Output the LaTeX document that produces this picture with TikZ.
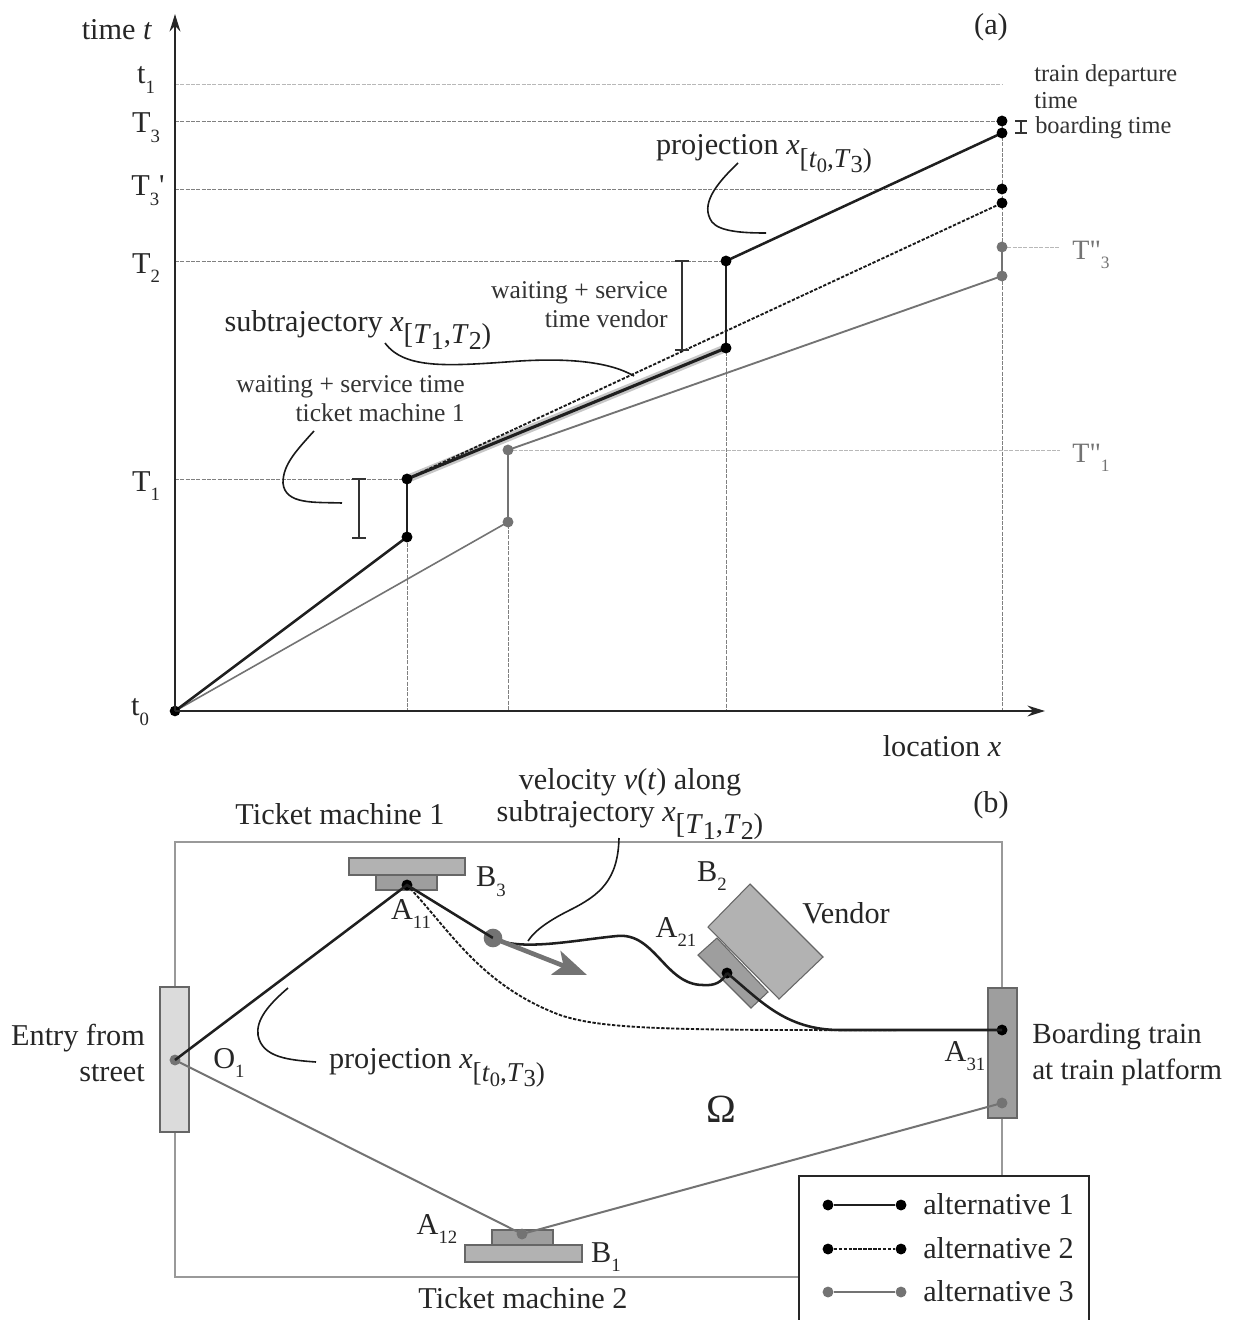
\documentclass[tikz,border=0pt]{standalone}
\usepackage{fontspec}
\setmainfont{Liberation Serif}
\newfontfamily\plainf{Liberation Serif}
\usetikzlibrary{arrows.meta}
\pgfdeclarelayer{under}
\pgfsetlayers{under,main}
\newcommand{\fbig}{\fontsize{22.7}{26}\selectfont}
\newcommand{\fmid}{\fontsize{19.2}{21}\selectfont}
\newcommand{\fsm}{\fontsize{18.3}{20.5}\selectfont}
\newcommand{\lowsub}[1]{\raisebox{-0.32em}{\fontsize{0.62em}{0.7em}\selectfont #1}}
\newcommand{\midx}[2]{\textit{x}\raisebox{-0.42em}{\fontsize{0.95em}{1em}\selectfont [\textit{#1}\raisebox{-0.2em}{\fontsize{0.9em}{1em}\selectfont 1},\textit{#1}\raisebox{-0.2em}{\fontsize{0.9em}{1em}\selectfont 2})}}
\newcommand{\prox}{\textit{x}\raisebox{-0.42em}{\fontsize{0.9em}{1em}\selectfont [\textit{t}\raisebox{-0.2em}{\fontsize{0.75em}{1em}\selectfont 0},\textit{T}\raisebox{-0.2em}{\fontsize{0.9em}{1em}\selectfont 3})}}
\definecolor{altgray}{gray}{0.45}
\definecolor{guide}{gray}{0.5}
\definecolor{lightguide}{gray}{0.72}
\tikzset{
  lbl/.style={inner sep=0pt,font=\fbig,text=black!85},
  lblm/.style={inner sep=0pt,font=\fmid,align=right,text=black!80},
  lbls/.style={inner sep=0pt,font=\fsm,align=left,text=black!80},
  lblg/.style={inner sep=0pt,font=\fontsize{21}{24}\selectfont,text=altgray},
  dotb/.style={circle,fill=black,draw=none,inner sep=0pt,minimum size=8.2pt},
  dotg/.style={circle,fill=altgray,draw=none,inner sep=0pt,minimum size=8.2pt},
  axisline/.style={line width=2.2pt,black!85,-{Stealth[length=13pt,width=8pt]}},
  guideline/.style={line width=0.6pt,guide,dash pattern=on 3pt off 1pt},
  guidelight/.style={line width=0.7pt,lightguide,dash pattern=on 3pt off 1pt},
  alta/.style={line width=1.9pt,black!88},
  altb/.style={line width=1.4pt,black!90,dash pattern=on 2.5pt off 1.2pt},
  altc/.style={line width=1.4pt,altgray},
  altcv/.style={line width=2pt,altgray},
  leader/.style={line width=1.2pt,black!90},
  ibar/.style={line width=1.2pt,black!80},
  kiosk/.style={draw=black!60,line width=0.8pt},
}
\begin{document}
\begin{tikzpicture}[x=0.75pt,y=-0.75pt]
\useasboundingbox (0,0) rectangle (1233,1320);
% ---------- panel (a) anchors
\coordinate (O) at (175,711);
\coordinate (yt) at (175,14);
\coordinate (xt) at (1045,711);
\coordinate (t1l) at (175,84);  \coordinate (t1r) at (1002,84);
\coordinate (T3l) at (175,121);
\coordinate (T3pl) at (175,189);
\coordinate (T2l) at (175,261);
\coordinate (T1l) at (175,479);
\coordinate (b1) at (407,711); \coordinate (b2) at (508,711); \coordinate (b3) at (726,711); \coordinate (b4) at (1002,711);
\coordinate (Tq1) at (1060,450); \coordinate (Tq3) at (1060,247);
% nodes on trajectories
\node[dotb] (a1) at (407,537) {};
\node[dotb] (a2) at (407,479) {};
\node[dotb] (a3) at (726,348) {};
\node[dotb] (a4) at (726,261) {};
\node[dotb] (a5) at (1002,133) {};
\node[dotb] (a6) at (1002,121) {};
\node[dotb] (d1) at (1002,203) {};
\node[dotb] (d2) at (1002,189) {};
\node[dotg] (c1) at (508,522) {};
\node[dotg] (c2) at (508,450) {};
\node[dotg] (c3) at (1002,276) {};
\node[dotg] (c4) at (1002,247) {};
\begin{pgfonlayer}{under}
% guides
\draw[guidelight] (t1l) -- (t1r);
\draw[guideline] (T3l) -- (a6.center);
\draw[guideline] (T3pl) -- (d2.center);
\draw[guideline] (T2l) -- (a4.center);
\draw[guideline] (T1l) -- (a2.center);
\draw[guideline] (a2.center) -- (b1);
\draw[guideline] (c2.center) -- (b2);
\draw[guideline] (a4.center) -- (b3);
\draw[guideline] (a6.center) -- (b4);
\draw[guidelight] (c2.center) -- (Tq1);
\draw[guidelight] (c4.center) -- (Tq3);
% subtrajectory shade
\draw[line width=6pt,black!22] (a2.center) -- (a3.center);
\draw[altc,line width=1.2pt] (O) -- (c1.center);
\draw[altcv] (c1.center) -- (c2.center);
\draw[altc] (c2.center) -- (c3.center);
\draw[altcv] (c3.center) -- (c4.center);
\draw[altb] (a2.center) -- (d1.center);
\draw[alta] (O) -- (a1.center);
\draw[alta,line width=2.2pt] (a1.center) -- (a2.center);
\draw[alta,line width=2.3pt] (a2.center) -- (a3.center);
\draw[alta,line width=2.2pt] (a3.center) -- (a4.center);
\draw[alta] (a4.center) -- (a5.center);
\end{pgfonlayer}
\fill[black] (O) circle (4pt);
% axes
\draw[axisline] (O) -- (yt);
\draw[axisline] (O) -- (xt);
% I bars
\draw[ibar] (352,479) -- (366,479) (359,479) -- (359,538) (352,538) -- (366,538);
\draw[ibar] (675,261) -- (689,261) (682,261) -- (682,350) (675,350) -- (689,350);
\draw[ibar,line width=1.6pt] (1015,121) -- (1027,121) (1021,121) -- (1021,133) (1015,133) -- (1027,133);
% leaders
\draw[leader] (738,163) .. controls (715,185) and (700,205) .. (712,222) .. controls (720,232) and (745,233) .. (766,233);
\draw[leader] (385,343) .. controls (405,370) and (450,366) .. (520,361) .. controls (570,358) and (610,362) .. (634,376);
\draw[leader] (314,431) .. controls (295,452) and (283,465) .. (283,483) .. controls (285,505) and (315,502) .. (342,503);
% labels panel a
\node[lbl] (ltime) at (117,30) {time \textit{t}};
\node[lbl] (la) at (991,27) {(a)};
\node[lbl] (lt1) at (146,80) {t\lowsub{1}};
\node[lbl] (lT3) at (146,128) {T\lowsub{3}};
\node[lbl] (lT3p) at (148,191) {T\lowsub{3}{\plainf '}};
\node[lbl] (lT2) at (146,268) {T\lowsub{2}};
\node[lbl] (lT1) at (146,486) {T\lowsub{1}};
\node[lbl] (lt0) at (140,712) {t\lowsub{0}};
\node[lbl] (lloc) at (942,746) {location \textit{x}};
\node[lblg] (lTq3) at (1091,255) {T{\plainf "}\lowsub{3}};
\node[lblg] (lTq1) at (1091,458) {T{\plainf "}\lowsub{1}};
\node[lbls,anchor=north west] (ldep) at (1034,64) {train departure\\time};
\node[lbls,anchor=west] (lboard) at (1035,128) {boarding time};
\node[lbl] (lproj) at (764,154) {projection \prox};
\node[lblm,anchor=north east] (lwv) at (668,281) {waiting + service\\[1pt]time vendor};
\node[lbl] (lsub) at (358,330) {subtrajectory \midx{T}{}};
\node[lblm,anchor=north east] (lwt) at (465,375) {waiting + service time\\[1pt]ticket machine 1};
% ---------- panel (b)
\draw[draw=black!40,line width=0.9pt] (175,842) rectangle (1002,1277);
\draw[kiosk,fill=black!14] (160,987) rectangle (189,1132);
\draw[kiosk,fill=black!38] (988,988) rectangle (1017,1118);
\draw[kiosk,fill=black!30] (349,858) rectangle (465,875);
\draw[kiosk,fill=black!38] (376,875) rectangle (437,890);
\draw[kiosk,fill=black!38] (492,1230) rectangle (553,1245);
\draw[kiosk,fill=black!30] (465,1245) rectangle (582,1262);
\draw[kiosk,fill=black!38] (717,938) -- (768,992) -- (751,1008) -- (698,955) -- cycle;
\draw[kiosk,fill=black!30] (750,884) -- (823,957) -- (779,999) -- (708,927) -- cycle;
\node[dotg] (O1) at (175,1060) {};
\node[dotb] (A11) at (407,885) {};
\node[dotb] (A21) at (727,973) {};
\node[dotb] (A31) at (1002,1030) {};
\node[dotg] (A32) at (1002,1103) {};
\node[dotg] (A12) at (522,1234) {};
\node[circle,fill=altgray,inner sep=0pt,minimum size=14pt] (vel) at (493,938) {};
\coordinate (velend) at (587,975);
\draw[altc,line width=1.5pt] (O1.center) -- (A12.center) -- (A32.center);
\draw[altb] (A11.center) .. controls (450,930) and (480,985) .. (560,1015) .. controls (610,1032) and (700,1030) .. (A31.center);
\draw[alta] (O1.center) -- (A11.center) -- (vel.center);
\draw[alta] (vel.center) .. controls (520,952) and (575,940) .. (617,936) .. controls (655,932) and (665,985) .. (703,985) .. controls (715,986) and (722,982) .. (A21.center);
\draw[alta] (A21.center) .. controls (760,1000) and (785,1030) .. (840,1030) -- (A31.center);
\draw[altgray,line width=3.5pt,-{Stealth[length=25pt,width=19pt,inset=6pt]}] (vel.center) -- (velend);
% leaders
\draw[leader] (619,838) .. controls (618,880) and (600,895) .. (570,910) .. controls (550,920) and (535,930) .. (528,941);
\draw[leader] (288,988) .. controls (268,1005) and (256,1020) .. (258,1035) .. controls (262,1058) and (290,1060) .. (316,1062);
% labels panel b
\node[lbl] (lb) at (991,805) {(b)};
\node[lbl] (ltm1) at (340,814) {Ticket machine 1};
\node[lbl,align=center] (lvel) at (630,804) {velocity \textit{v}(\textit{t}) along\\[-2pt]subtrajectory \midx{T}{}};
\node[lbl] (lB3) at (491,882) {B\lowsub{3}};
\node[lbl] (lA11) at (411,914) {A\lowsub{11}};
\node[lbl] (lB2) at (712,876) {B\lowsub{2}};
\node[lbl] (lA21) at (676,932) {A\lowsub{21}};
\node[lbl] (lvendor) at (846,913) {Vendor};
\node[lbl,align=right] (lentry) at (78,1053) {Entry from\\[1pt]street};
\node[lbl] (lO1) at (229,1063) {O\lowsub{1}};
\node[lbl] (lproj2) at (437,1068) {projection \prox};
\node[lbl] (lA31) at (965,1056) {A\lowsub{31}};
\node[lbl,align=left,anchor=west,font=\fontsize{21.9}{26}\selectfont] (lboardb) at (1032,1054) {Boarding train\\[1pt]at train platform};
\node[lbl,font=\fontsize{30}{32}\selectfont] (lom) at (721,1109) {Ω};
\node[lbl] (lA12) at (437,1229) {A\lowsub{12}};
\node[lbl] (lB1) at (606,1257) {B\lowsub{1}};
\node[lbl] (ltm2) at (523,1298) {Ticket machine 2};
% legend
\draw[line width=1.8pt,black!85,fill=white] (799,1176) rectangle (1089,1325);
\node[dotb] (k1a) at (828,1205) {}; \node[dotb] (k1b) at (901,1205) {};
\node[dotb] (k2a) at (828,1249) {}; \node[dotb] (k2b) at (901,1249) {};
\node[dotg] (k3a) at (828,1292) {}; \node[dotg] (k3b) at (901,1292) {};
\draw[alta] (k1a) -- (k1b);
\draw[altb] (k2a) -- (k2b);
\draw[altc] (k3a) -- (k3b);
\node[lbl,anchor=west] (lk1) at (923,1204) {alternative 1};
\node[lbl,anchor=west] (lk2) at (923,1248) {alternative 2};
\node[lbl,anchor=west] (lk3) at (923,1291) {alternative 3};
\end{tikzpicture}
\end{document}
